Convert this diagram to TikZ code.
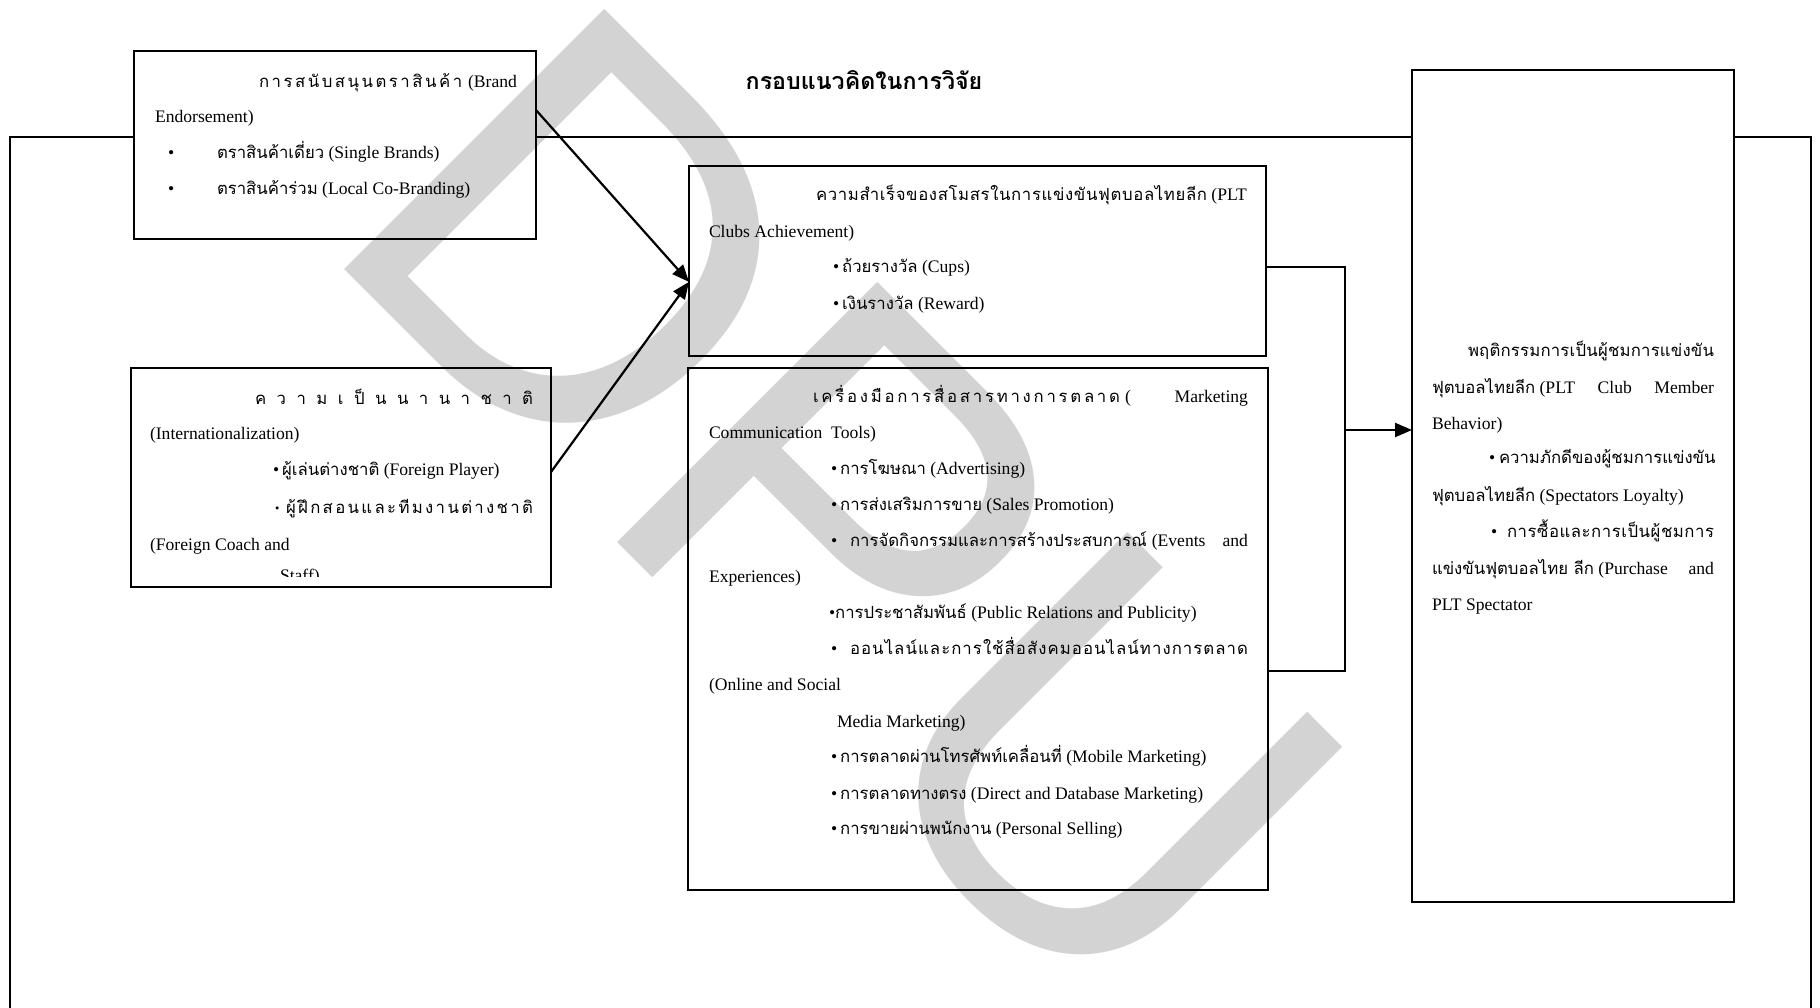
\documentclass[tikz,border=0pt]{standalone}
\usepackage{fontspec}
\usetikzlibrary{arrows.meta,calc}
\setmainfont{Liberation Serif}
\newfontfamily\thai[Script=Thai,Scale=0.95]{Loma}
\newfontfamily\thaihead[Script=Thai]{Loma}
\newfontfamily\wmfont{Liberation Sans}
\newcommand\tha[1]{{\thai #1}}
\definecolor{wmgray}{RGB}{211,211,211}

\tikzset{
  box/.style={draw, line width=2.2pt, rectangle, inner sep=0pt, outer sep=0pt, anchor=north west},
  txt/.style={anchor=base west, inner sep=0pt, outer sep=0pt, font=\fontsize{17.6}{20}\selectfont},
  frame/.style={line width=1.5pt},
  conn/.style={line width=2.2pt},
  arr/.style={line width=2.2pt, -{Triangle[length=17pt,width=14pt]}},
}

\begin{document}
\begin{tikzpicture}[x=1pt,y=-1pt]
\useasboundingbox (0,0) rectangle (1820,1007);

% watermark
\node[anchor=base west, inner sep=0pt, outer sep=0pt, rotate=-45, text=wmgray,
      font=\wmfont\fontsize{535}{535}\selectfont] (wmark) at (313,238) {DPU};

% boxes
\node[box, minimum width=402pt, minimum height=188pt] (b1) at (134,51) {};
\node[box, minimum width=420pt, minimum height=219pt] (b2) at (131,368) {};
\node[box, minimum width=577pt, minimum height=190pt] (b3) at (689,166) {};
\node[box, minimum width=580pt, minimum height=522pt] (b4) at (688,368) {};
\node[box, minimum width=322pt, minimum height=832pt] (b5) at (1412,70) {};

% outer frame, interrupted by the boxes it passes behind
\coordinate (fTL) at (10,137);
\coordinate (fTR) at (1811,137);
\coordinate (fBL) at (10,1012);
\coordinate (fBR) at (1811,1012);
\draw[frame] (fBL) -- (fTL) -- (fTL -| b1.west);
\draw[frame] (fTL -| b1.east) -- (fTL -| b5.west);
\draw[frame] (fTL -| b5.east) -- (fTR) -- (fBR);

% title
\node[anchor=base, inner sep=0pt, font=\thaihead\bfseries\fontsize{23.2}{28}\selectfont] (title) at (864,89) {กรอบแนวคิดในการวิจัย};

% box 1: brand endorsement
\node[txt] (t11) at (259,87) {\hbox to 258pt{\tha{ก\hfill า\hfill ร\hfill ส\hfill นั\hfill บ\hfill ส\hfill นุ\hfill น\hfill ต\hfill ร\hfill า\hfill สิ\hfill น\hfill ค้\hfill า}\hspace{6pt}(Brand}};
\node[txt] (t12) at (155,122) {Endorsement)};
\node[txt] (t13b) at (168,158) {•};
\node[txt] (t13) at (217,158) {\tha{ตราสินค้าเดี่ยว} (Single Brands)};
\node[txt] (t14b) at (168,194) {•};
\node[txt] (t14) at (217,194) {\tha{ตราสินค้าร่วม} (Local Co-Branding)};

% box 2: internationalization
\node[txt] (t21) at (255,404) {\hbox to 278pt{\tha{ค\hfill ว\hfill า\hfill ม\hfill เ\hfill ป็\hfill น\hfill น\hfill า\hfill น\hfill า\hfill ช\hfill า\hfill ติ}}};
\node[txt] (t22) at (150,439) {(Internationalization)};
\node[txt] (t23) at (273,475) {•\hspace{3pt}\tha{ผู้เล่นต่างชาติ} (Foreign Player)};
\node[txt] (t24b) at (275,513) {\raisebox{1pt}{\scalebox{0.7}{•}}};
\node[txt] (t24) at (286,513) {\hbox to 247pt{\tha{ผู้\hfill ฝึ\hfill ก\hfill ส\hfill อ\hfill น\hfill แ\hfill ล\hfill ะ\hfill ที\hfill ม\hfill ง\hfill า\hfill น\hfill ต่\hfill า\hfill ง\hfill ช\hfill า\hfill ติ}}};
\node[txt] (t25) at (150,550) {(Foreign Coach and};
\begin{scope}
  \clip (131,540) rectangle (551,576);
  \node[txt] (t26) at (280,581) {Staff)};
\end{scope}

% box 3: club achievement
\node[txt] (t31) at (816,200) {\hbox to 391pt{\tha{ค\hfil ว\hfil า\hfil ม\hfil สำ\hfil เ\hfil ร็\hfil จ\hfil ข\hfil อ\hfil ง\hfil ส\hfil โ\hfil ม\hfil ส\hfil ร\hfil ใ\hfil น\hfil ก\hfil า\hfil ร\hfil แ\hfil ข่\hfil ง\hfil ขั\hfil น\hfil ฟุ\hfil ต\hfil บ\hfil อ\hfil ล\hfil ไ\hfil ท\hfil ย\hfil ลี\hfil ก}} (PLT};
\node[txt] (t32) at (709,237) {Clubs Achievement)};
\node[txt] (t33) at (833,272) {•\hspace{3pt}\tha{ถ้วยรางวัล} (Cups)};
\node[txt] (t34) at (833,309) {•\hspace{3pt}\tha{เงินรางวัล} (Reward)};

% box 4: marketing communication tools
\node[txt] (t41) at (813,402) {\hbox to 435pt{\hbox to 307pt{\tha{เ\hfill ค\hfill รื่\hfill อ\hfill ง\hfill มื\hfill อ\hfill ก\hfill า\hfill ร\hfill สื่\hfill อ\hfill ส\hfill า\hfill ร\hfill ท\hfill า\hfill ง\hfill ก\hfill า\hfill ร\hfill ต\hfill ล\hfill า\hfill ด}}\hspace{5pt}(\hfill Marketing}};
\node[txt] (t42) at (709,438) {Communication\ \ Tools)};
\node[txt] (t43) at (831,474) {•\hspace{3pt}\tha{การโฆษณา} (Advertising)};
\node[txt] (t44) at (831,510) {•\hspace{3pt}\tha{การส่งเสริมการขาย} (Sales Promotion)};
\node[txt] (t45b) at (831,546) {•};
\node[txt] (t45) at (850,546) {\hbox to 398pt{\tha{การจัดกิจกรรมและการสร้างประสบการณ์}\hspace{5pt plus 1fil}(Events\hspace{5pt plus 1fill}and}};
\node[txt] (t46) at (709,582) {Experiences)};
\node[txt] (t47) at (829,618) {•\tha{การประชาสัมพันธ์} (Public Relations and Publicity)};
\node[txt] (t48b) at (831,654) {•};
\node[txt] (t48) at (850,654) {\hbox to 398pt{\tha{อ\hfill อ\hfill น\hfill ไ\hfill ล\hfill น์\hfill แ\hfill ล\hfill ะ\hfill ก\hfill า\hfill ร\hfill ใ\hfill ช้\hfill สื่\hfill อ\hfill สั\hfill ง\hfill ค\hfill ม\hfill อ\hfill อ\hfill น\hfill ไ\hfill ล\hfill น์\hfill ท\hfill า\hfill ง\hfill ก\hfill า\hfill ร\hfill ต\hfill ล\hfill า\hfill ด}}};
\node[txt] (t49) at (709,690) {(Online and Social};
\node[txt] (t410) at (837,727) {Media Marketing)};
\node[txt] (t411) at (831,762) {•\hspace{3pt}\tha{การตลาดผ่านโทรศัพท์เคลื่อนที่} (Mobile Marketing)};
\node[txt] (t412) at (831,799) {•\hspace{3pt}\tha{การตลาดทางตรง} (Direct and Database Marketing)};
\node[txt] (t413) at (831,834) {•\hspace{3pt}\tha{การขายผ่านพนักงาน} (Personal Selling)};

% box 5: spectator behaviour
\node[txt] (t51) at (1468,356) {\hbox to 246pt{\tha{พ\hfil ฤ\hfil ติ\hfil ก\hfil ร\hfil ร\hfil ม\hfil ก\hfil า\hfil ร\hfil เ\hfil ป็\hfil น\hfil ผู้\hfil ช\hfil ม\hfil ก\hfil า\hfil ร\hfil แ\hfil ข่\hfil ง\hfil ขั\hfil น}}};
\node[txt] (t52) at (1432,393) {\hbox to 282pt{\tha{ฟุตบอลไทยลีก} (PLT\hfill Club\hfill Member}};
\node[txt] (t53) at (1432,429) {Behavior)};
\node[txt] (t54b) at (1489,463) {•};
\node[txt] (t54) at (1499,463) {\hbox to 215pt{\tha{ค\hfil ว\hfil า\hfil ม\hfil ภั\hfil ก\hfil ดี\hfil ข\hfil อ\hfil ง\hfil ผู้\hfil ช\hfil ม\hfil ก\hfil า\hfil ร\hfil แ\hfil ข่\hfil ง\hfil ขั\hfil น}}};
\node[txt] (t55) at (1432,501) {\tha{ฟุตบอลไทยลีก} (Spectators Loyalty)};
\node[txt] (t56b) at (1491,537) {•};
\node[txt] (t56) at (1507,537) {\hbox to 207pt{\tha{ก\hfil า\hfil ร\hfil ซื้\hfil อ\hfil แ\hfil ล\hfil ะ\hfil ก\hfil า\hfil ร\hfil เ\hfil ป็\hfil น\hfil ผู้\hfil ช\hfil ม\hfil ก\hfil า\hfil ร}}};
\node[txt] (t57) at (1432,574) {\hbox to 282pt{\tha{แข่งขันฟุตบอลไทย ลีก} (Purchase\hfill and}};
\node[txt] (t58) at (1432,610) {PLT Spectator};

% connectors
\coordinate (a1s) at ($(b1.north east)!0.314!(b1.south east)$);
\coordinate (a2s) at ($(b2.north east)!0.475!(b2.south east)$);
\coordinate (a3e) at ($(b3.north west)!0.61!(b3.south west)$);
\draw[arr] (a1s) -- (a3e);
\draw[arr] (a2s) -- (a3e);

\coordinate (c3) at ($(b3.north east)!0.53!(b3.south east)$);
\coordinate (c4) at ($(b4.north east)!0.58!(b4.south east)$);
\coordinate (j) at (1345,430);
\draw[conn] (c3) -| (j) |- (c4);
\draw[arr] (j) -- (j -| b5.west);
\end{tikzpicture}
\end{document}
